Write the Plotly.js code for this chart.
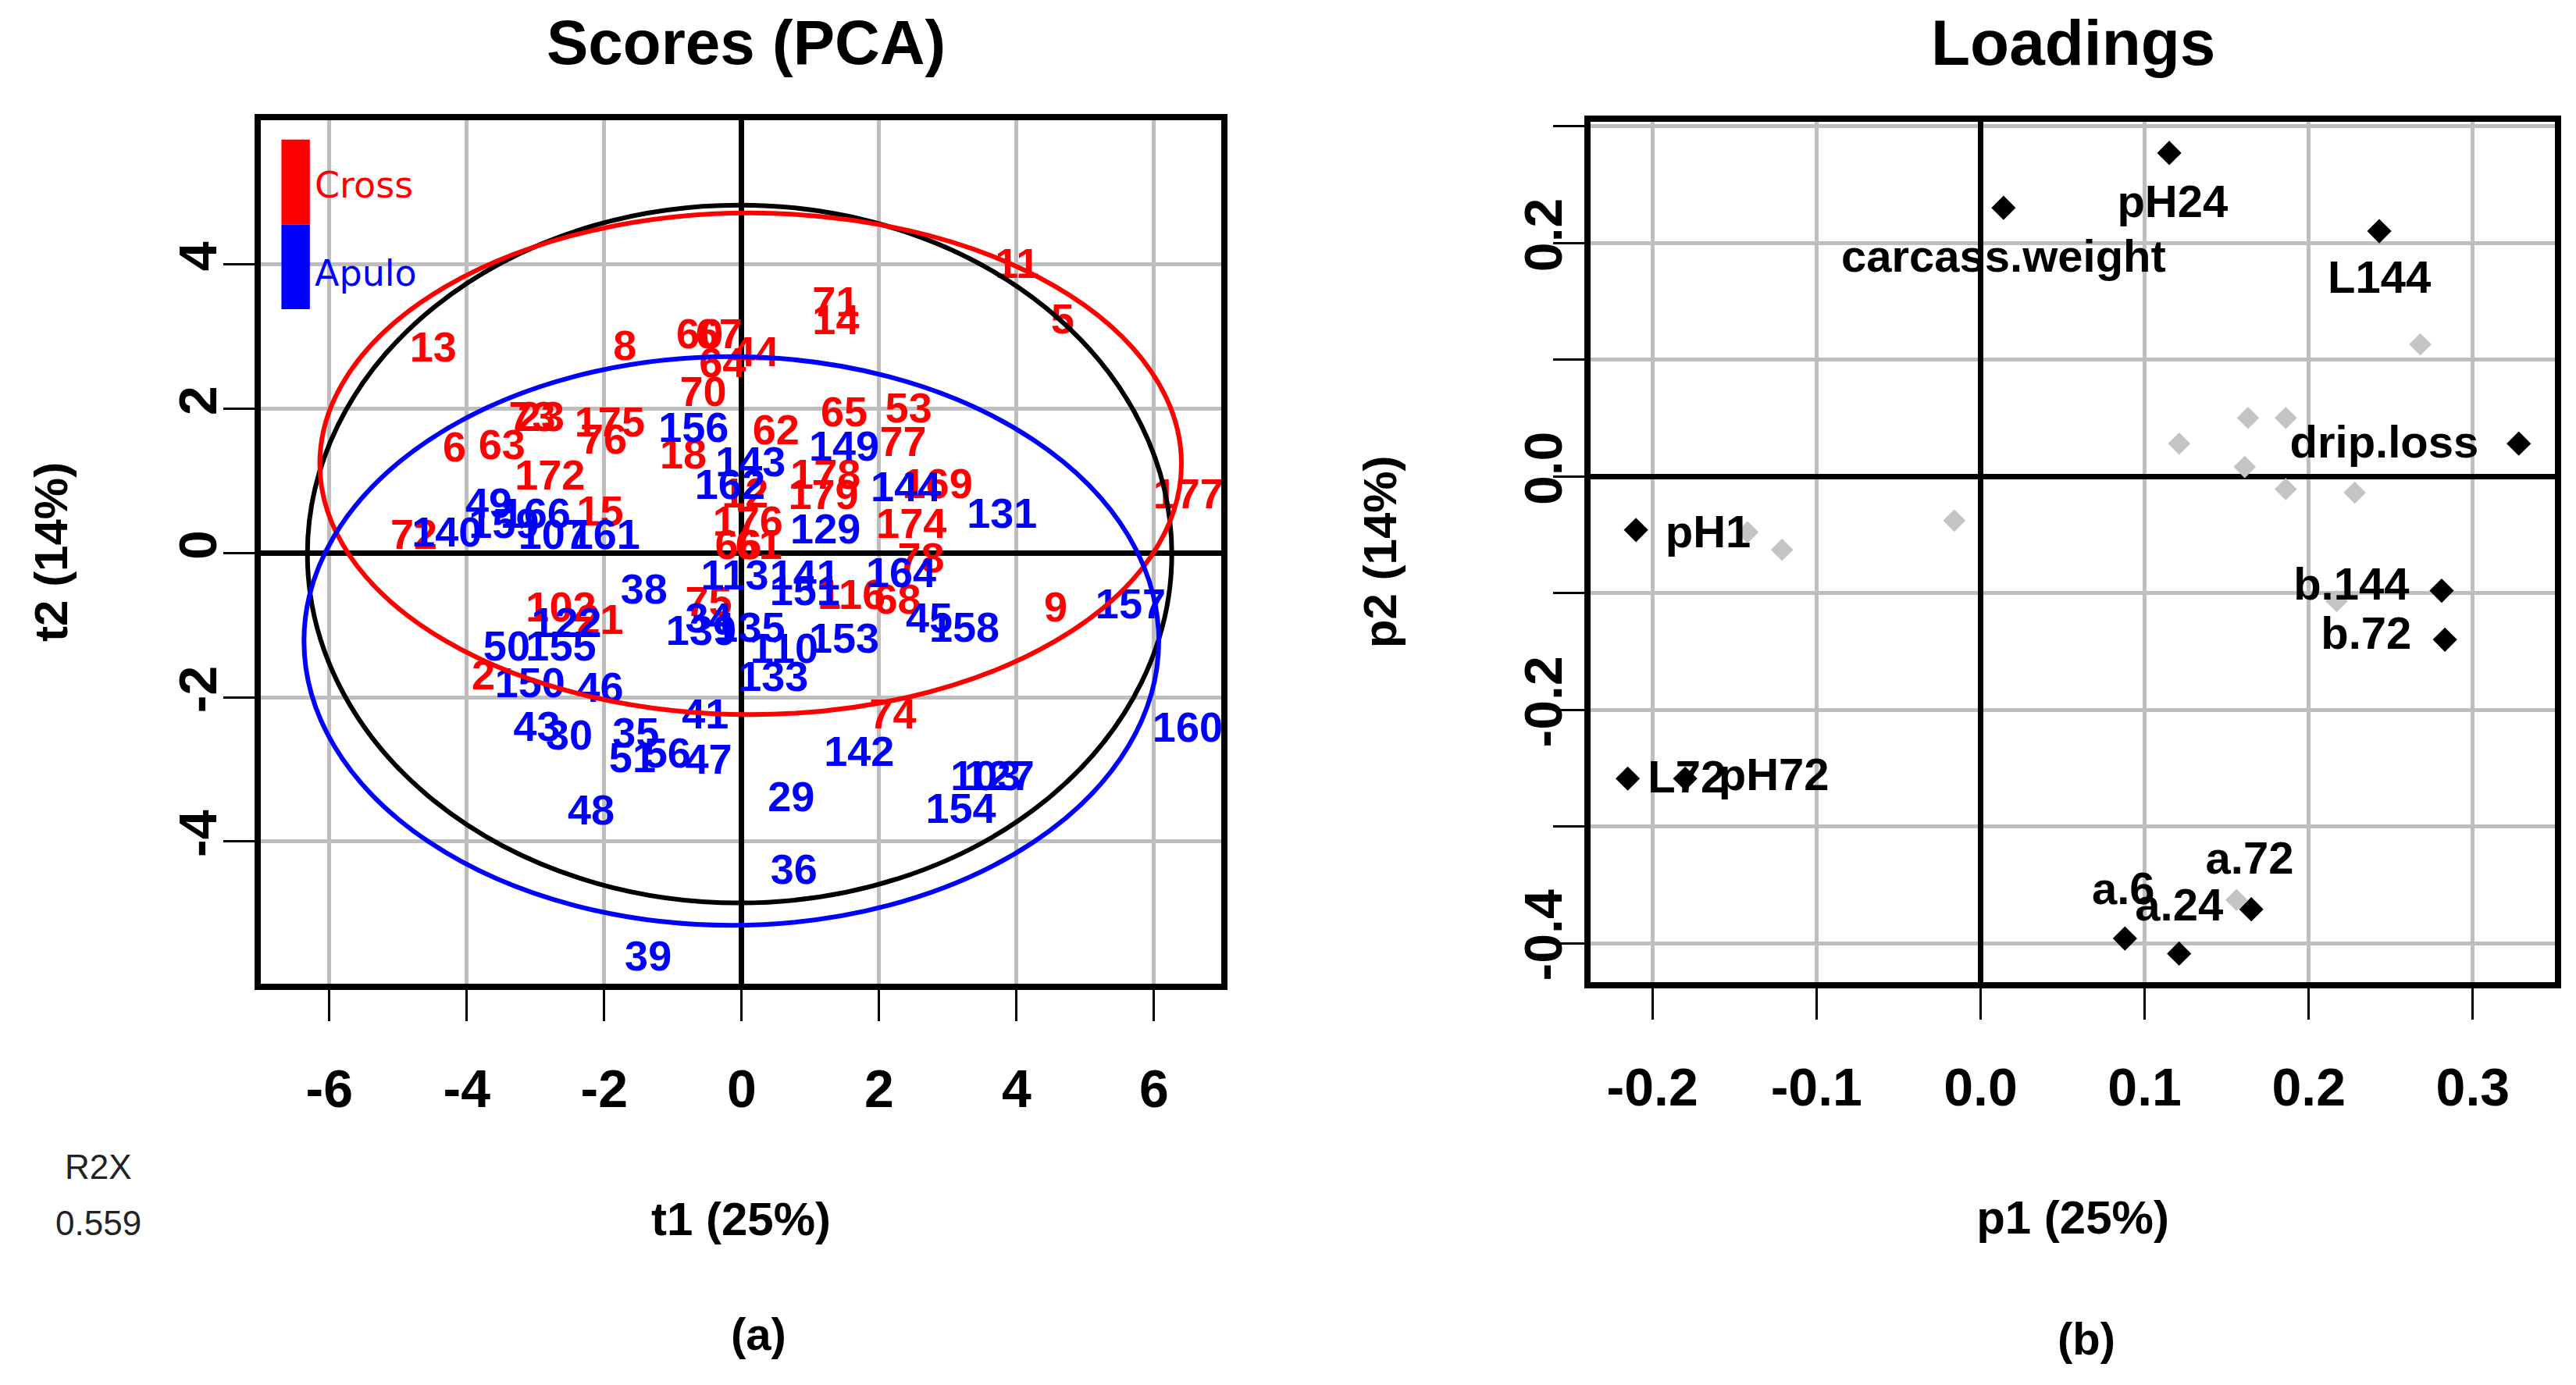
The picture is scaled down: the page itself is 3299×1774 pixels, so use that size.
<!DOCTYPE html>
<html><head><meta charset="utf-8">
<script src="https://cdn.plot.ly/plotly-3.0.1.min.js"></script>
<style>html,body{margin:0;padding:0;background:#fff;}#chart{width:3299px;height:1774px;}</style>
</head><body><div id="chart"></div>
<script>
// ---------- Scores (PCA) data ----------
const crossLabels = ['13','8','60','67','64','44','70','71','14','11','5','73','23','175','76','6','63','172','18','15','72',
  '62','65','53','77','178','179','12','169','174','176','66','61','78','116','68','75','9','74','177','102','21','2'];
const crossT1 = [-4.49,-1.70,-0.61,-0.33,-0.28,0.20,-0.56,1.37,1.37,4.01,4.67,-3.05,-2.92,-1.92,-2.01,-4.18,-3.49,-2.79,-0.85,-2.06,-4.77,
  0.50,1.49,2.43,2.35,1.22,1.19,0.05,2.85,2.47,0.09,-0.05,0.25,2.61,1.60,2.27,-0.48,4.57,2.20,6.50,-2.63,-2.06,-3.76];
const crossT2 = [2.80,2.82,2.98,2.98,2.58,2.73,2.18,3.43,3.18,3.96,3.19,1.84,1.84,1.76,1.52,1.41,1.45,1.02,1.32,0.53,0.20,
  1.65,1.90,1.95,1.49,1.04,0.75,0.78,0.91,0.35,0.39,0.06,0.06,-0.12,-0.63,-0.69,-0.73,-0.80,-2.29,0.76,-0.80,-0.98,-1.74];

const apuloLabels = ['156','143','162','149','144','131','129','113','141','151','164','45','158','157','153','110','133','139','34','135',
  '38','140','49','159','166','107','161','50','155','122','150','46','43','30','35','51','56','47','41','48','39','36','29','142','154','103','127','160'];
const apuloT1 = [-0.70,0.13,-0.17,1.49,2.39,3.79,1.22,-0.10,0.92,0.92,2.32,2.73,3.24,5.66,1.49,0.62,0.46,-0.59,-0.48,0.12,
  -1.42,-4.29,-3.68,-3.46,-3.00,-2.74,-1.99,-3.42,-2.63,-2.55,-3.08,-2.06,-2.98,-2.51,-1.54,-1.59,-1.08,-0.48,-0.53,-2.19,-1.36,0.76,0.72,1.71,3.19,3.55,3.75,6.49];
const apuloT2 = [1.68,1.21,0.89,1.43,0.86,0.49,0.28,-0.36,-0.36,-0.58,-0.33,-0.95,-1.09,-0.76,-1.24,-1.38,-1.77,-1.13,-0.95,-1.09,
  -0.55,0.24,0.64,0.35,0.49,0.20,0.20,-1.34,-1.34,-1.02,-1.85,-1.92,-2.46,-2.58,-2.54,-2.89,-2.83,-2.91,-2.29,-3.62,-5.64,-4.44,-3.43,-2.81,-3.60,-3.14,-3.14,-2.47];

// Hotelling-type ellipses (all samples, Cross, Apulo): extent in t1 / t2
const ellipseNames  = ['all','Cross','Apulo'];
const ellipseColors = ['#000000','#ff0000','#0000ff'];
const ellipseT1Min = [-6.32,-6.14,-6.37];
const ellipseT1Max = [ 6.26, 6.40, 6.07];
const ellipseT2Min = [-4.85,-2.24,-5.16];
const ellipseT2Max = [ 4.82, 4.71, 2.72];

const scoresXTicks = [-6,-4,-2,0,2,4,6];
const scoresXTickText = ['-6','-4','-2','0','2','4','6'];
const scoresYTicks = [-4,-2,0,2,4];
const scoresYTickText = ['-4','-2','0','2','4'];

// ---------- Loadings data ----------
const loadVars = ['carcass.weight','pH24','L144','drip.loss','b.144','b.72','pH1','L72','pH72','a.6','a.24','a.72'];
const loadP1 = [0.014,0.115,0.243,0.328,0.281,0.283,-0.210,-0.215,-0.180,0.088,0.121,0.165];
const loadP2 = [0.230,0.277,0.210,0.028,-0.098,-0.140,-0.046,-0.259,-0.259,-0.396,-0.409,-0.371];
const loadLabelP1 = [0.014,0.117,0.243,0.246,0.226,0.235,-0.166,-0.179,-0.126,0.087,0.121,0.164];
const loadLabelP2 = [0.185,0.232,0.167,0.026,-0.096,-0.138,-0.051,-0.261,-0.259,-0.357,-0.371,-0.331];
const otherP1 = [-0.142,-0.121,-0.016,0.268,0.163,0.186,0.121,0.161,0.186,0.228,0.217,0.156];
const otherP2 = [-0.048,-0.063,-0.038,0.113,0.050,0.050,0.028,0.008,-0.011,-0.014,-0.107,-0.363];

const loadXTicks = [-0.2,-0.1,0,0.1,0.2,0.3];
const loadXTickText = ['-0.2','-0.1','0.0','0.1','0.2','0.3'];
const loadYTicks = [-0.4,-0.3,-0.2,-0.1,0,0.1,0.2,0.3];
const loadYTickText = ['-0.4','','-0.2','','0.0','','0.2',''];

const r2x = 0.559;

// ---------- build ----------
const FONT = 'Liberation Sans, Arial, sans-serif';
const GRID = '#bebebe';

const traces = [
  {type:'scatter', mode:'text', x:crossT1, y:crossT2, text:crossLabels, xaxis:'x', yaxis:'y',
   textfont:{family:FONT, size:54, color:'#ff0000', weight:'bold'}, hoverinfo:'skip', showlegend:false},
  {type:'scatter', mode:'text', x:apuloT1, y:apuloT2, text:apuloLabels, xaxis:'x', yaxis:'y',
   textfont:{family:FONT, size:54, color:'#0000ff', weight:'bold'}, hoverinfo:'skip', showlegend:false},
  {type:'scatter', mode:'markers', x:otherP1, y:otherP2, xaxis:'x2', yaxis:'y2',
   marker:{symbol:'diamond', size:22, color:'#c4c4c4'}, hoverinfo:'skip', showlegend:false},
  {type:'scatter', mode:'markers', x:loadP1, y:loadP2, xaxis:'x2', yaxis:'y2',
   marker:{symbol:'diamond', size:24, color:'#000000'}, hoverinfo:'skip', showlegend:false},
  {type:'scatter', mode:'text', x:loadLabelP1, y:loadLabelP2, text:loadVars, xaxis:'x2', yaxis:'y2',
   textfont:{family:FONT, size:58, color:'#000000', weight:'bold'}, hoverinfo:'skip', showlegend:false}
];

const shapes = ellipseNames.map((n,i)=>({type:'circle', xref:'x', yref:'y', layer:'above',
  x0:ellipseT1Min[i], x1:ellipseT1Max[i], y0:ellipseT2Min[i], y1:ellipseT2Max[i],
  line:{color:ellipseColors[i], width:6}, fillcolor:'rgba(0,0,0,0)'}));
// legend colour bar
shapes.push({type:'rect', xref:'x domain', yref:'y domain', x0:0.0216, x1:0.0512, y0:0.879, y1:0.9774,
  fillcolor:'#ff0000', line:{width:0}, layer:'above'});
shapes.push({type:'rect', xref:'x domain', yref:'y domain', x0:0.0216, x1:0.0512, y0:0.7809, y1:0.879,
  fillcolor:'#0000ff', line:{width:0}, layer:'above'});

function axisCommon(){
  return {showgrid:true, gridcolor:GRID, gridwidth:5, zeroline:true, zerolinecolor:'#000', zerolinewidth:7,
    showline:true, mirror:true, linecolor:'#000', linewidth:8, ticks:'outside', ticklen:40, tickwidth:3,
    tickcolor:'#000', tickmode:'array', fixedrange:true,
    tickfont:{family:FONT, size:68, color:'#000', weight:'bold'}};
}

const layout = {
  width:3299, height:1774, autosize:false, margin:{l:0,r:0,t:0,b:0},
  paper_bgcolor:'#fff', plot_bgcolor:'#fff', showlegend:false,
  xaxis:Object.assign(axisCommon(), {domain:[0.1012,0.4741], range:[-7.0,6.98], anchor:'y',
    tickvals:scoresXTicks, ticktext:scoresXTickText, ticklabelstandoff:28,
    title:{text:'t1 (25%)', font:{family:FONT, size:60, color:'#000', weight:'bold'}, standoff:112}}),
  yaxis:Object.assign(axisCommon(), {domain:[0.2897,0.9134], range:[-5.97,6.0], anchor:'x',
    tickvals:scoresYTicks, ticktext:scoresYTickText, tickangle:-90, ticklabelstandoff:-18,
    title:{text:'t2 (14%)', font:{family:FONT, size:60, color:'#000', weight:'bold'}, standoff:112}}),
  xaxis2:Object.assign(axisCommon(), {domain:[0.6175,0.9918], range:[-0.2376,0.350], anchor:'y2',
    tickvals:loadXTicks, ticktext:loadXTickText, ticklabelstandoff:28,
    title:{text:'p1 (25%)', font:{family:FONT, size:60, color:'#000', weight:'bold'}, standoff:112}}),
  yaxis2:Object.assign(axisCommon(), {domain:[0.2909,0.9123], range:[-0.4334,0.304], anchor:'x2',
    tickvals:loadYTicks, ticktext:loadYTickText, tickangle:-90, ticklabelstandoff:-38,
    title:{text:'p2 (14%)', font:{family:FONT, size:60, color:'#000', weight:'bold'}, standoff:133}}),
  shapes:shapes,
  annotations:[
    {text:'Scores (PCA)', xref:'paper', yref:'paper', x:0.2895, y:0.969, showarrow:false, xanchor:'center', yanchor:'middle',
     font:{family:FONT, size:80, color:'#000', weight:'bold'}},
    {text:'Loadings', xref:'paper', yref:'paper', x:0.8048, y:0.969, showarrow:false, xanchor:'center', yanchor:'middle',
     font:{family:FONT, size:82, color:'#000', weight:'bold'}},
    {text:'Cross', xref:'x domain', yref:'y domain', x:0.0545, y:0.9242, showarrow:false, xanchor:'left', yanchor:'middle',
     font:{family:'DejaVu Sans, sans-serif', size:46, color:'#ff0000'}},
    {text:'Apulo', xref:'x domain', yref:'y domain', x:0.0545, y:0.8225, showarrow:false, xanchor:'left', yanchor:'middle',
     font:{family:'DejaVu Sans, sans-serif', size:46, color:'#0000ff'}},
    {text:'R2X', xref:'paper', yref:'paper', x:0.0382, y:0.1578, showarrow:false, xanchor:'center', yanchor:'middle',
     font:{family:FONT, size:44, color:'#222'}},
    {text:r2x.toFixed(3), xref:'paper', yref:'paper', x:0.0382, y:0.1172, showarrow:false, xanchor:'center', yanchor:'middle',
     font:{family:FONT, size:44, color:'#222'}},
    {text:'(a)', xref:'paper', yref:'paper', x:0.2946, y:0.0372, showarrow:false, xanchor:'center', yanchor:'middle',
     font:{family:FONT, size:58, color:'#000', weight:'bold'}},
    {text:'(b)', xref:'paper', yref:'paper', x:0.8099, y:0.0333, showarrow:false, xanchor:'center', yanchor:'middle',
     font:{family:FONT, size:58, color:'#000', weight:'bold'}}
  ]
};

Plotly.newPlot('chart', traces, layout, {staticPlot:true, displayModeBar:false});
</script></body></html>
